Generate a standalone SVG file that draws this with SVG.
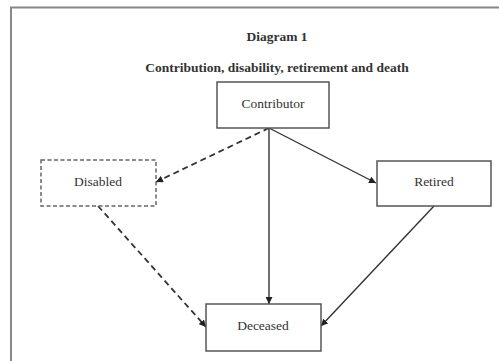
<svg xmlns="http://www.w3.org/2000/svg" width="499" height="361" viewBox="0 0 499 361">
<style>
text{font-family:'Liberation Serif','DejaVu Serif',serif;fill:#333;text-anchor:middle}
.t{font-weight:bold;font-size:13.5px}
.n{font-size:13.5px}
.box{fill:#fff;stroke:#555;stroke-width:1.5}
.dbox{fill:#fff;stroke:#666;stroke-width:1.5;stroke-dasharray:4 2.5}
.c{fill:none;stroke:#333;stroke-width:1.4}
.d{stroke-dasharray:6 4;stroke-width:1.8}
</style>
<defs>
<marker id="ah" viewBox="0 0 10 10" refX="10" refY="5" markerWidth="7" markerHeight="7" orient="auto" markerUnits="userSpaceOnUse">
<path d="M0,0 L10,5 L0,10 z" fill="#222"/>
</marker>
</defs>
<rect width="499" height="361" fill="#fff"/>
<path d="M11,361 V7.5 H499" fill="none" stroke="#888" stroke-width="2"/>
<text class="t" x="277" y="41" font-family="Liberation Serif, serif">Diagram 1</text>
<text class="t" x="277" y="72" font-family="Liberation Serif, serif">Contribution, disability, retirement and death</text>
<g id="connectors">
<line class="c d" x1="269" y1="128" x2="156" y2="182" marker-end="url(#ah)"/>
<line class="c" x1="269" y1="128" x2="269" y2="304" marker-end="url(#ah)"/>
<line class="c" x1="269" y1="128" x2="376" y2="183" marker-end="url(#ah)"/>
<line class="c d" x1="98" y1="206" x2="206" y2="327" marker-end="url(#ah)"/>
<line class="c" x1="434" y1="206" x2="321" y2="326" marker-end="url(#ah)"/>
</g>
<g id="contributor">
<rect class="box" x="217" y="82" width="112" height="46"/>
<text class="n" x="273" y="108" font-family="Liberation Serif, serif">Contributor</text>
</g>
<g id="disabled">
<rect class="dbox" x="41" y="160" width="115" height="46"/>
<text class="n" x="98" y="186" font-family="Liberation Serif, serif">Disabled</text>
</g>
<g id="retired">
<rect class="box" x="377" y="161" width="114" height="45"/>
<text class="n" x="434" y="186" font-family="Liberation Serif, serif">Retired</text>
</g>
<g id="deceased">
<rect class="box" x="206" y="304" width="115" height="47"/>
<text class="n" x="263" y="330" font-family="Liberation Serif, serif">Deceased</text>
</g>
</svg>
